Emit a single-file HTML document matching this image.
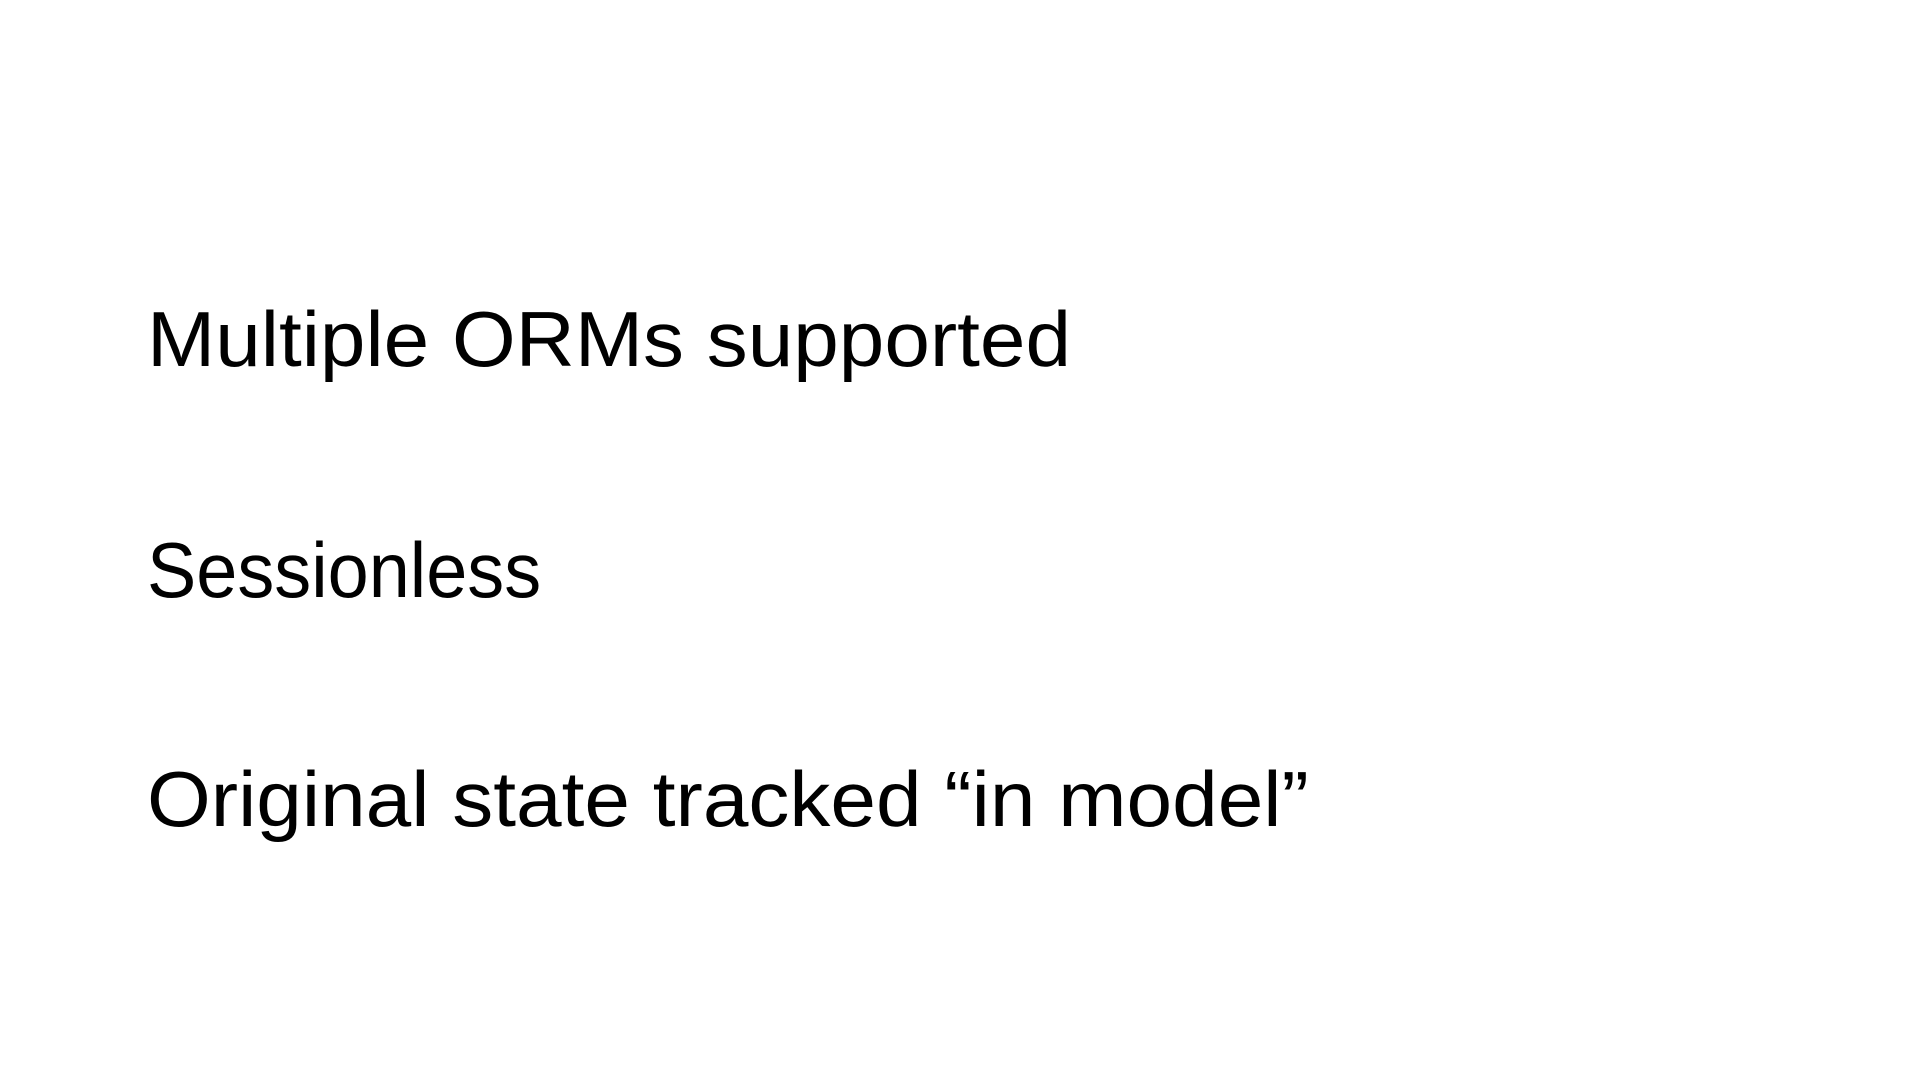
<!DOCTYPE html>
<html>
<head>
<meta charset="utf-8">
<style>
html,body{margin:0;padding:0;background:#fff;}
body{width:1920px;height:1080px;position:relative;overflow:hidden;}
.t{position:absolute;left:147px;font-family:"Liberation Sans",sans-serif;font-size:78px;line-height:1;color:#000;white-space:nowrap;transform-origin:0 0;}
</style>
</head>
<body>
<div class="t" style="top:300px;transform:scaleX(1.05)">Multiple ORMs supported</div>
<div class="t" style="top:531px;transform:scaleX(0.947)">Sessionless</div>
<div class="t" style="top:760px;transform:scaleX(1.051)">Original state tracked “in model”</div>
</body>
</html>
